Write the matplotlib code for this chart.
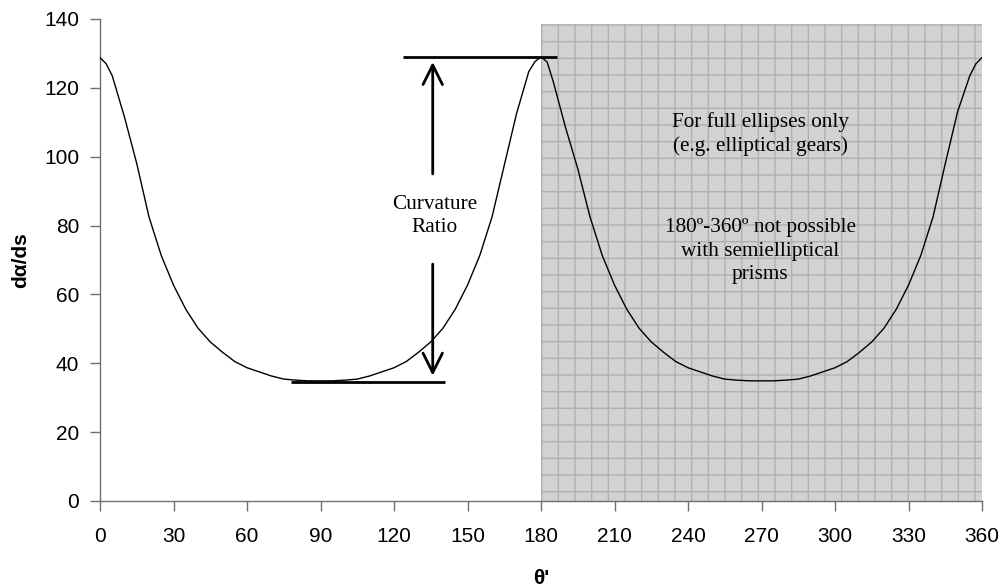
import numpy as np
import matplotlib.pyplot as plt
from matplotlib.patches import Rectangle

# theta' (deg) and curvature d(alpha)/ds
theta = [0, 2.5, 5, 10, 15, 20, 25, 30, 35, 40, 45, 50, 55, 60, 65, 70, 75, 80, 85, 90,
         95, 100, 105, 110, 115, 120, 125, 130, 135, 140, 145, 150, 155, 160, 165, 170, 175, 177.5, 180,
         182.5, 185, 190, 195, 200, 205, 210, 215, 220, 225, 230, 235, 240, 245, 250, 255, 260, 265, 270,
         275, 280, 285, 290, 295, 300, 305, 310, 315, 320, 325, 330, 335, 340, 345, 350, 355, 357.5, 360]
curv = [128.8, 127.0, 123.5, 111.5, 98.0, 82.5, 71.3, 62.7, 55.7, 50.2, 46.2, 43.2, 40.5, 38.7, 37.5, 36.3, 35.4, 35.1, 34.9, 34.9,
        34.9, 35.1, 35.4, 36.3, 37.5, 38.7, 40.5, 43.2, 46.2, 50.2, 55.7, 62.7, 71.3, 82.5, 97.5, 112.5, 124.7, 127.6, 129.0,
        127.5, 121.8, 108.5, 96.5, 82.5, 71.3, 62.7, 55.7, 50.2, 46.2, 43.2, 40.5, 38.7, 37.5, 36.3, 35.4, 35.1, 34.9, 34.9,
        34.9, 35.1, 35.4, 36.3, 37.5, 38.7, 40.5, 43.2, 46.2, 50.2, 55.7, 62.7, 71.3, 82.5, 98.0, 113.0, 123.5, 127.0, 128.8]

kmax = 129.0
kmin = 34.5
xticks = list(range(0, 361, 30))
yticks = list(range(0, 141, 20))

plt.rcParams['font.family'] = ['Liberation Sans', 'DejaVu Sans']
plt.rcParams['hatch.color'] = '#b0b0b0'
plt.rcParams['hatch.linewidth'] = 1.0

fig = plt.figure(figsize=(10.03, 5.88), dpi=100)
ax = fig.add_axes([0.0997, 0.148, 0.8794, 0.8197])

# shaded "full ellipse only" region
ax.add_patch(Rectangle((180, 0), 180, 138.5, facecolor='#d2d2d2',
                       edgecolor='#b0b0b0', hatch='+', linewidth=0, zorder=0))

ax.plot(theta, curv, color='black', lw=1.0, zorder=3)

# curvature ratio markers
ax.hlines(kmax, 123.5, 186.5, color='black', lw=2, zorder=4)
ax.hlines(kmin, 77.8, 140.8, color='black', lw=2, zorder=4)
arr = dict(arrowstyle='->,head_length=0.7,head_width=0.35', lw=2, color='black',
           mutation_scale=20, shrinkA=0, shrinkB=0)
ax.annotate('', xy=(135.8, 127.5), xytext=(135.8, 95), arrowprops=arr)
ax.annotate('', xy=(135.8, 36.4), xytext=(135.8, 68.8), arrowprops=arr)

serif = ['Liberation Serif', 'DejaVu Serif']
ax.text(136.4, 82.8, 'Curvature\nRatio', ha='center', va='center',
        family=serif, fontsize=15.3, linespacing=1.3)
ax.text(269.4, 106.6, 'For full ellipses only\n(e.g. elliptical gears)', ha='center', va='center',
        family=serif, fontsize=15.3, linespacing=1.3)
ax.text(269.4, 72.6, '180º-360º not possible\nwith semielliptical\nprisms', ha='center', va='center',
        family=serif, fontsize=15.3, linespacing=1.3)

ax.set_xlim(0, 360)
ax.set_ylim(0, 140)
ax.set_xticks(xticks)
ax.set_yticks(yticks)
ax.tick_params(axis='x', direction='out', length=7, width=1, color='#707070', labelsize=15, pad=12)
ax.tick_params(axis='y', direction='out', length=7, width=1, color='#707070', labelsize=15, pad=8)
for side in ['top', 'right']:
    ax.spines[side].set_visible(False)
for side in ['left', 'bottom']:
    ax.spines[side].set_color('#707070')
    ax.spines[side].set_linewidth(1)

ax.set_xlabel("θ'", fontsize=15, fontweight='bold', labelpad=16)
ax.set_ylabel('dα/ds', fontsize=15, fontweight='bold', labelpad=10)

fig.savefig('out.png', dpi=100)
